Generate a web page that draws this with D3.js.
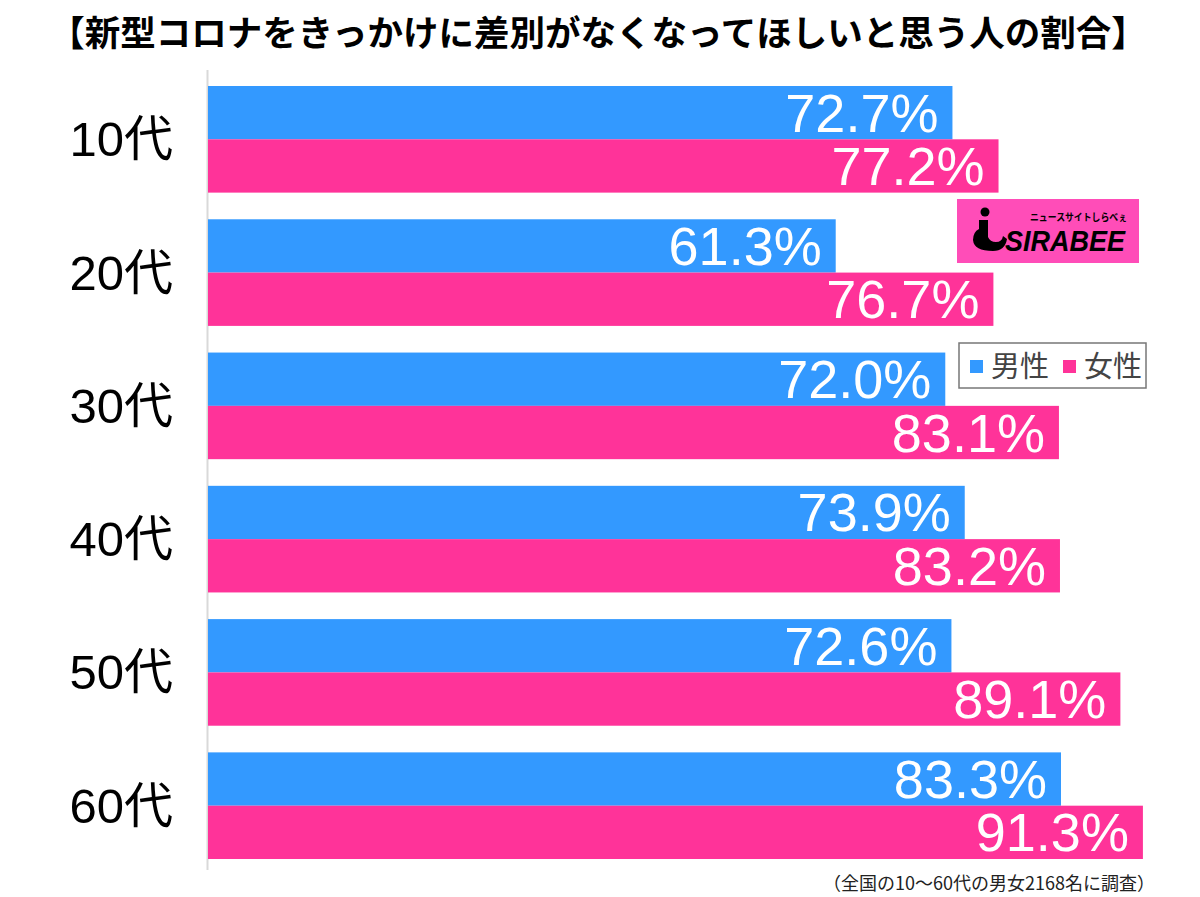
<html>
<head>
<meta charset="utf-8">
<script src="https://d3js.org/d3.v7.min.js"></script>
<style>
  body { margin: 0; background: #fff; }
  svg text { font-family: "Liberation Sans", "Noto Sans CJK JP", sans-serif; }
</style>
</head>
<body>
<svg id="chart"></svg>
<script>
var ages = ["10代", "20代", "30代", "40代", "50代", "60代"];
var male = [72.7, 61.3, 72.0, 73.9, 72.6, 83.3];
var female = [77.2, 76.7, 83.1, 83.2, 89.1, 91.3];
var seriesNames = ["男性", "女性"];
var colors = ["#3399ff", "#ff3399"];

var width = 1200, height = 897;
var svg = d3.select("#chart").attr("width", width).attr("height", height);

// x: 0% sits on the axis line, bars grow right
var x = d3.scaleLinear().domain([0, 100]).range([208, 1232]);
var y = d3.scaleBand().domain(ages).range([86, 859]).paddingInner(0.2).paddingOuter(0);
var sub = d3.scaleBand().domain([0, 1]).range([0, y.bandwidth()]);

svg.append("text")
  .attr("x", 598).attr("y", 46)
  .attr("text-anchor", "middle")
  .attr("font-size", 35.5).attr("font-weight", "bold")
  .style("font-family", "'Noto Sans CJK JP', sans-serif")
  .text("【新型コロナをきっかけに差別がなくなってほしいと思う人の割合】");

svg.append("line")
  .attr("x1", 207.5).attr("x2", 207.5)
  .attr("y1", 70).attr("y2", 870)
  .attr("stroke", "#d9d9d9").attr("stroke-width", 2);

var rows = ages.map(function (a, i) { return {age: a, vals: [male[i], female[i]]}; });

var g = svg.selectAll("g.age").data(rows).enter().append("g")
  .attr("class", "age")
  .attr("transform", d => "translate(0," + y(d.age) + ")");

g.append("text")
  .attr("x", 173).attr("y", y.bandwidth() / 2 + 17)
  .attr("text-anchor", "end")
  .attr("font-size", 49)
  .text(d => d.age);

g.selectAll("rect").data(d => d.vals).enter().append("rect")
  .attr("x", x(0))
  .attr("y", (v, j) => sub(j))
  .attr("width", v => x(v) - x(0))
  .attr("height", sub.bandwidth())
  .attr("fill", (v, j) => colors[j]);

g.selectAll("text.val").data(d => d.vals).enter().append("text")
  .attr("class", "val")
  .attr("x", v => x(v) - 14)
  .attr("y", (v, j) => sub(j) + sub.bandwidth() / 2 + 19)
  .attr("text-anchor", "end")
  .attr("fill", "#fff")
  .attr("font-size", 54)
  .text(v => v.toFixed(1) + "%");

// logo
var logo = svg.append("g").attr("transform", "translate(957,199)");
logo.append("rect").attr("width", 182).attr("height", 64).attr("fill", "#ff4db8");
logo.append("circle").attr("cx", 28).attr("cy", 13).attr("r", 4.5).attr("fill", "#000");
logo.append("path")
  .attr("d", "M22,21 L31,21 L31,38 Q33,43 39,43 Q45,43 46,37 L50,40 Q48,52 36,52 Q17,52 16,41 Q16,33 22,30 Z")
  .attr("fill", "#000");
logo.append("text")
  .attr("x", 48).attr("y", 52)
  .attr("font-size", 29).attr("font-weight", "bold").attr("font-style", "italic")
  .attr("textLength", 120).attr("lengthAdjust", "spacingAndGlyphs")
  .attr("fill", "#000")
  .text("SIRABEE");
logo.append("text")
  .attr("x", 73).attr("y", 22)
  .attr("font-size", 10).attr("font-weight", "bold")
  .attr("textLength", 97).attr("lengthAdjust", "spacingAndGlyphs")
  .attr("fill", "#000")
  .style("font-family", "'Noto Sans CJK JP', sans-serif")
  .text("ニュースサイトしらべぇ");

// legend
var leg = svg.append("g").attr("transform", "translate(959,343)");
leg.append("rect").attr("width", 187).attr("height", 45)
  .attr("fill", "#fff").attr("stroke", "#777").attr("stroke-width", 1.5);
var items = leg.selectAll("g").data(seriesNames).enter().append("g")
  .attr("transform", (d, i) => "translate(" + (11 + i * 93) + ",0)");
items.append("rect").attr("y", 17).attr("width", 13).attr("height", 13)
  .attr("fill", (d, i) => colors[i]);
items.append("text").attr("x", 21).attr("y", 34)
  .attr("font-size", 29).attr("fill", "#444")
  .style("font-family", "'Noto Sans CJK JP', sans-serif")
  .text(d => d);

svg.append("text")
  .attr("x", 1155).attr("y", 890)
  .attr("text-anchor", "end")
  .attr("font-size", 18).attr("fill", "#222")
  .style("font-family", "'Noto Sans CJK JP', sans-serif")
  .text("（全国の10〜60代の男女2168名に調査）");
</script>
</body>
</html>
